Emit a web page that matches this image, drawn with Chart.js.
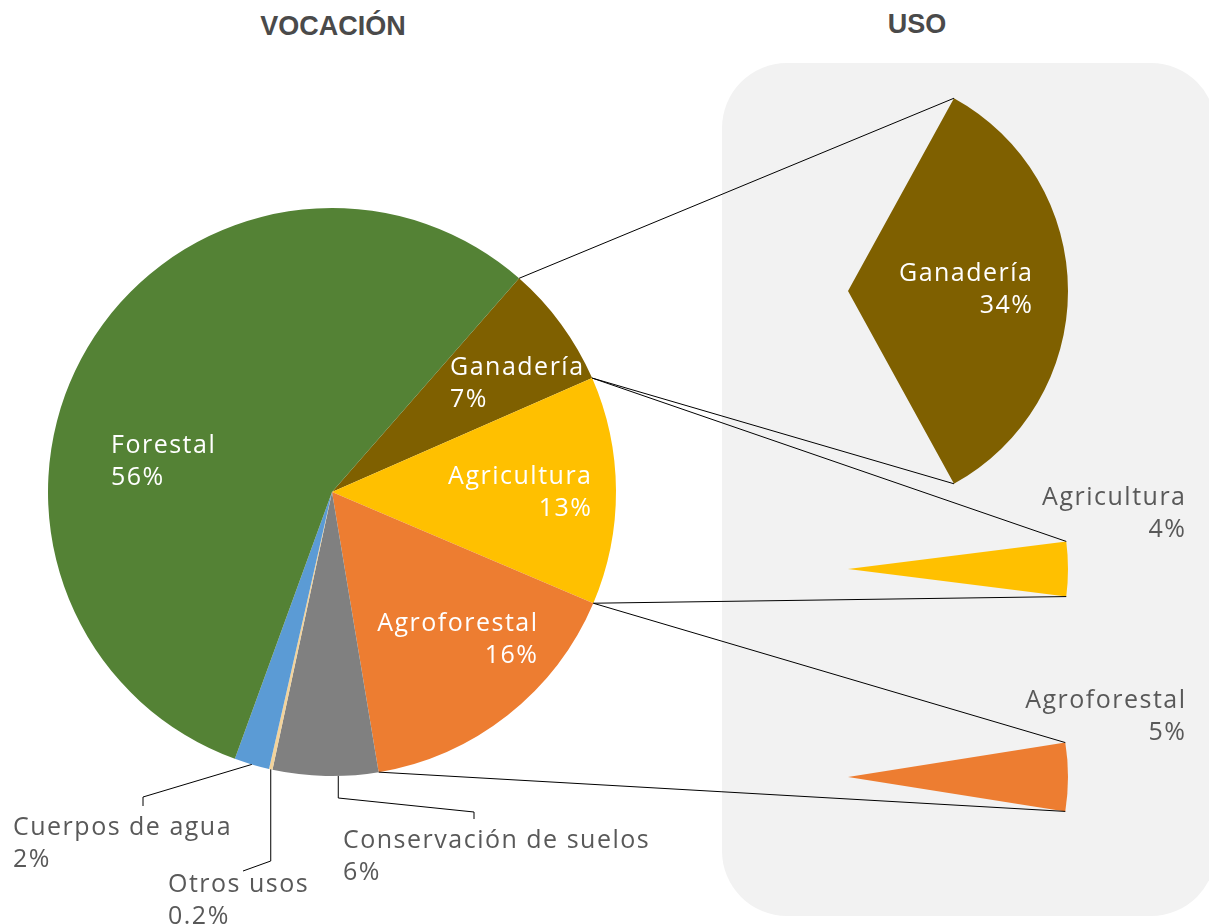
<!DOCTYPE html>
<html>
<head>
<meta charset="utf-8">
<script src="https://cdn.jsdelivr.net/npm/chart.js@4.4.1/dist/chart.umd.min.js"></script>
<style>
html,body{margin:0;padding:0;background:#fff;overflow:hidden;}
#stage{position:relative;width:1209px;height:924px;overflow:hidden;}
#panel{position:absolute;left:722px;top:63px;width:494px;height:853px;background:#F2F2F2;border-radius:65px;}
#stage canvas{position:absolute;left:0;top:0;}
.title{position:absolute;font-family:"Liberation Sans",Arial,sans-serif;font-weight:bold;font-size:27px;line-height:27px;color:#4a4a4a;transform:translateX(-50%);white-space:nowrap;}
</style>
</head>
<body>
<div id="stage">
  <div id="panel"></div>
  <div class="title" style="left:333px;top:13px;">VOCACIÓN</div>
  <div class="title" style="left:917px;top:11px;">USO</div>
</div>
<script>
// ---------- DATA ----------
const vocacionLabels = ['Ganadería', 'Agricultura', 'Agroforestal', 'Conservación de suelos', 'Otros usos', 'Cuerpos de agua', 'Forestal'];
const vocacionValues = [7, 13, 16, 6, 0.2, 2, 56];
const vocacionPct = ['7%', '13%', '16%', '6%', '0.2%', '2%', '56%'];
const usoLabels = ['Ganadería', 'Agricultura', 'Agroforestal'];
const usoValues = [34, 4, 5];
const usoPct = ['34%', '4%', '5%'];

// ---------- STYLE / LAYOUT ----------
const vocacionColors = ['#7F6000', '#FFC000', '#ED7D31', '#808080', '#F2D39B', '#5B9BD5', '#548235'];
const usoColors = ['#7F6000', '#FFC000', '#ED7D31'];
const W = 1209, H = 1000;
const FONT = '25px "Open Sans", "Liberation Sans", sans-serif';
const LS = 1.5;    // letter spacing
const LH = 32;     // line height
const GREY = '#595959';
const MAIN = {cx: 332, cy: 492, r: 284, rotation: 41.2};
const USO = {cx: 848, cy: [291, 569, 777], r: 220};
// label anchors (first line baseline) relative to pie centre
const mainLabelLayout = [
  {dx: 118, dy: -117, align: 'left', color: '#fff'},
  {dx: 259, dy: -8, align: 'right', color: '#fff'},
  {dx: 205, dy: 139, align: 'right', color: '#fff'},
  {dx: 11, dy: 356, align: 'left', color: GREY, leader: {frac: 0.38, pts: [[null, -50], [131, -36], [131, -29]]}},
  {dx: -164, dy: 400, align: 'left', color: GREY, leader: {frac: 0.5, pts: [[null, -31], [75, -21]]}},
  {dx: -319, dy: 343, align: 'left', color: GREY, leader: {frac: 0.5, pts: [[130, -38], [130, -29]]}},
  {dx: -221, dy: -39, align: 'left', color: '#fff'}
];
const usoLabelLayout = [
  {dx: 184, dy: -10, align: 'right', color: '#fff'},
  {dx: 337, dy: -64, align: 'right', color: GREY},
  {dx: 337, dy: -69, align: 'right', color: GREY}
];

const stage = document.getElementById('stage');
function makeCanvas() {
  const c = document.createElement('canvas');
  c.width = W; c.height = H;
  c.style.width = W + 'px'; c.style.height = H + 'px';
  stage.appendChild(c);
  return c;
}
function padFor(cx, cy, r) {
  return {left: cx - r, top: cy - r, right: W - (cx + r), bottom: H - (cy + r)};
}
function drawText(ctx, lines, x, y, align, color) {
  ctx.save();
  ctx.font = FONT;
  ctx.fillStyle = color;
  ctx.textAlign = align;
  ctx.textBaseline = 'alphabetic';
  try { ctx.letterSpacing = LS + 'px'; } catch (e) {}
  lines.forEach((t, i) => ctx.fillText(t, x + (align === 'right' ? LS : 0), y + i * LH));
  ctx.restore();
}
function arcPoint(el, a) {
  const p = el.getProps(['x', 'y', 'outerRadius'], true);
  return {x: p.x + p.outerRadius * Math.cos(a), y: p.y + p.outerRadius * Math.sin(a)};
}
const baseOpts = {
  responsive: false, animation: false, devicePixelRatio: 1, events: [],
  plugins: {legend: {display: false}, tooltip: {enabled: false}, title: {display: false}}
};

// ---------- USO charts ----------
const usoCharts = usoValues.map((v, i) => {
  const cy = USO.cy[i];
  return new Chart(makeCanvas(), {
    type: 'pie',
    data: {
      labels: [usoLabels[i], ''],
      datasets: [{data: [v, 100 - v], backgroundColor: [usoColors[i], 'rgba(0,0,0,0)'],
                  borderWidth: 0, hoverOffset: 0, offset: 0}]
    },
    options: Object.assign({}, baseOpts, {
      rotation: 90 - v * 1.8,
      layout: {padding: padFor(USO.cx, cy, USO.r)}
    }),
    plugins: [{
      id: 'usoLabels',
      afterDraw(chart) {
        const L = usoLabelLayout[i];
        const el = chart.getDatasetMeta(0).data[0];
        const p = el.getProps(['x', 'y'], true);
        drawText(chart.ctx, [usoLabels[i], usoPct[i]], p.x + L.dx, p.y + L.dy, L.align, L.color);
      }
    }]
  });
});

// ---------- VOCACIÓN chart ----------
new Chart(makeCanvas(), {
  type: 'pie',
  data: {
    labels: vocacionLabels,
    datasets: [{data: vocacionValues, backgroundColor: vocacionColors, borderWidth: 0, hoverOffset: 0, offset: 0}]
  },
  options: Object.assign({}, baseOpts, {
    rotation: MAIN.rotation,
    layout: {padding: padFor(MAIN.cx, MAIN.cy, MAIN.r)}
  }),
  plugins: [{
    id: 'mainDecor',
    afterDraw(chart) {
      const ctx = chart.ctx;
      const arcs = chart.getDatasetMeta(0).data;
      // connector lines to USO
      ctx.save();
      ctx.strokeStyle = '#000';
      ctx.lineWidth = 1;
      usoLabels.forEach((lab, j) => {
        const k = vocacionLabels.indexOf(lab);
        const a = arcs[k].getProps(['startAngle', 'endAngle'], true);
        const u = usoCharts[j].getDatasetMeta(0).data[0];
        const ua = u.getProps(['startAngle', 'endAngle'], true);
        [[a.startAngle, ua.startAngle], [a.endAngle, ua.endAngle]].forEach(([m, n]) => {
          const p1 = arcPoint(arcs[k], m), p2 = arcPoint(u, n);
          ctx.beginPath(); ctx.moveTo(p1.x, p1.y); ctx.lineTo(p2.x, p2.y); ctx.stroke();
        });
      });
      ctx.restore();
      // labels and leaders
      arcs.forEach((el, i) => {
        const L = mainLabelLayout[i];
        const p = el.getProps(['x', 'y', 'startAngle', 'endAngle'], true);
        const ax = p.x + L.dx, ay = p.y + L.dy;
        if (L.leader) {
          const ang = p.startAngle + (p.endAngle - p.startAngle) * L.leader.frac;
          const s = arcPoint(el, ang);
          ctx.save();
          ctx.strokeStyle = '#000'; ctx.lineWidth = 1;
          ctx.beginPath(); ctx.moveTo(s.x, s.y);
          L.leader.pts.forEach(([x, y]) => ctx.lineTo(x === null ? s.x : ax + x, ay + y));
          ctx.stroke();
          ctx.restore();
        }
        drawText(ctx, [vocacionLabels[i], vocacionPct[i]], ax, ay, L.align, L.color);
      });
    }
  }]
});
</script>
</body>
</html>
